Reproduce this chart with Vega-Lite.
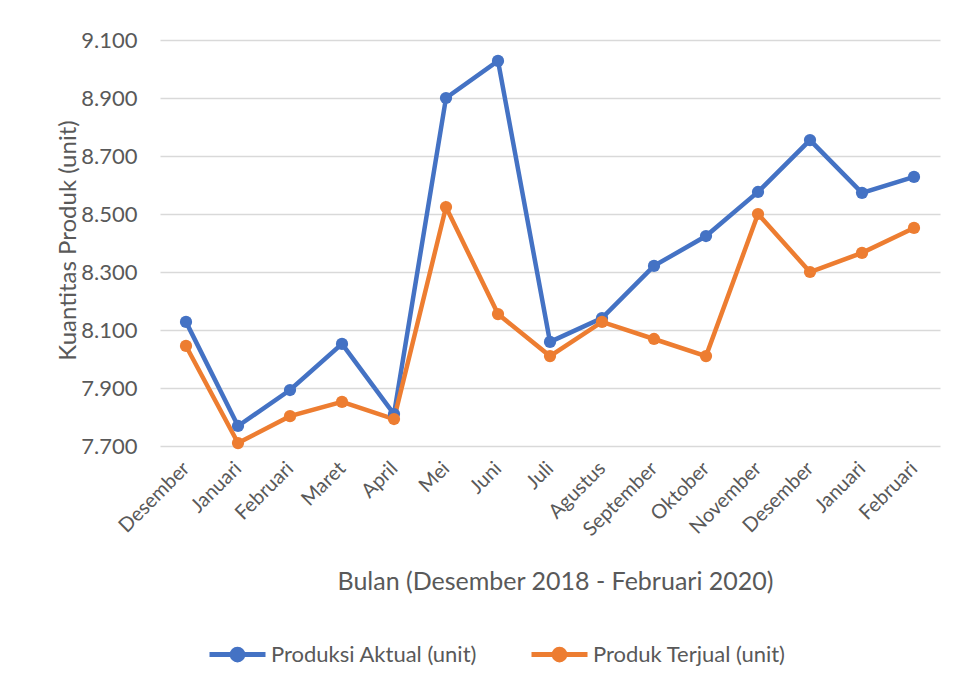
{
  "$schema": "https://vega.github.io/schema/vega-lite/v6.json",
  "width": 780,
  "height": 406,
  "autosize": {"type": "none"},
  "padding": {"left": 160, "top": 40, "right": 17, "bottom": 241},
  "background": "white",
  "data": {
    "values": [
      {"periode": "Desember 2018", "seri": "Produksi Aktual (unit)", "nilai": 8128},
      {"periode": "Januari 2019", "seri": "Produksi Aktual (unit)", "nilai": 7769},
      {"periode": "Februari 2019", "seri": "Produksi Aktual (unit)", "nilai": 7893},
      {"periode": "Maret 2019", "seri": "Produksi Aktual (unit)", "nilai": 8052},
      {"periode": "April 2019", "seri": "Produksi Aktual (unit)", "nilai": 7810},
      {"periode": "Mei 2019", "seri": "Produksi Aktual (unit)", "nilai": 8900},
      {"periode": "Juni 2019", "seri": "Produksi Aktual (unit)", "nilai": 9028},
      {"periode": "Juli 2019", "seri": "Produksi Aktual (unit)", "nilai": 8059},
      {"periode": "Agustus 2019", "seri": "Produksi Aktual (unit)", "nilai": 8141},
      {"periode": "September 2019", "seri": "Produksi Aktual (unit)", "nilai": 8321},
      {"periode": "Oktober 2019", "seri": "Produksi Aktual (unit)", "nilai": 8424},
      {"periode": "November 2019", "seri": "Produksi Aktual (unit)", "nilai": 8576},
      {"periode": "Desember 2019", "seri": "Produksi Aktual (unit)", "nilai": 8755},
      {"periode": "Januari 2020", "seri": "Produksi Aktual (unit)", "nilai": 8573},
      {"periode": "Februari 2020", "seri": "Produksi Aktual (unit)", "nilai": 8628},
      {"periode": "Desember 2018", "seri": "Produk Terjual (unit)", "nilai": 8045},
      {"periode": "Januari 2019", "seri": "Produk Terjual (unit)", "nilai": 7710},
      {"periode": "Februari 2019", "seri": "Produk Terjual (unit)", "nilai": 7803},
      {"periode": "Maret 2019", "seri": "Produk Terjual (unit)", "nilai": 7852},
      {"periode": "April 2019", "seri": "Produk Terjual (unit)", "nilai": 7793},
      {"periode": "Mei 2019", "seri": "Produk Terjual (unit)", "nilai": 8524},
      {"periode": "Juni 2019", "seri": "Produk Terjual (unit)", "nilai": 8155},
      {"periode": "Juli 2019", "seri": "Produk Terjual (unit)", "nilai": 8010},
      {"periode": "Agustus 2019", "seri": "Produk Terjual (unit)", "nilai": 8128},
      {"periode": "September 2019", "seri": "Produk Terjual (unit)", "nilai": 8069},
      {"periode": "Oktober 2019", "seri": "Produk Terjual (unit)", "nilai": 8010},
      {"periode": "November 2019", "seri": "Produk Terjual (unit)", "nilai": 8500},
      {"periode": "Desember 2019", "seri": "Produk Terjual (unit)", "nilai": 8300},
      {"periode": "Januari 2020", "seri": "Produk Terjual (unit)", "nilai": 8366},
      {"periode": "Februari 2020", "seri": "Produk Terjual (unit)", "nilai": 8452}
    ]
  },
  "mark": {"type": "line", "strokeWidth": 4.5, "point": {"filled": true, "size": 150}},
  "encoding": {
    "x": {
      "field": "periode",
      "type": "ordinal",
      "sort": null,
      "scale": {"type": "point", "padding": 0.5},
      "axis": {
        "title": "Bulan (Desember 2018 - Februari 2020)",
        "labelExpr": "split(datum.label, ' ')[0]",
        "labelAngle": -45,
        "labelAlign": "right",
        "labelBaseline": "middle",
        "labelPadding": 19,
        "ticks": false,
        "domain": false,
        "grid": false,
        "titleX": 395,
        "titleY": 135,
        "titleBaseline": "middle",
        "titleAnchor": "middle"
      }
    },
    "y": {
      "field": "nilai",
      "type": "quantitative",
      "scale": {"domain": [7700, 9100], "nice": false, "zero": false},
      "axis": {
        "title": "Kuantitas Produk (unit)",
        "values": [7700, 7900, 8100, 8300, 8500, 8700, 8900, 9100],
        "format": ",.0f",
        "ticks": false,
        "domain": false,
        "labelPadding": 23,
        "titleX": -92,
        "titleY": 200,
        "titleAngle": -90,
        "titleBaseline": "middle",
        "titleAlign": "center"
      }
    },
    "color": {
      "field": "seri",
      "type": "nominal",
      "scale": {"domain": ["Produksi Aktual (unit)", "Produk Terjual (unit)"], "range": ["#4472C4", "#ED7D31"]},
      "legend": {
        "title": null,
        "orient": "none",
        "direction": "horizontal",
        "legendX": 47,
        "legendY": 584,
        "symbolType": "M-1,0L1,0M-0.19,0A0.19,0.19,0,1,1,0.19,0A0.19,0.19,0,1,1,-0.19,0",
        "symbolSize": 3136,
        "symbolStrokeWidth": 5,
        "columnPadding": 43,
        "labelOffset": 3,
        "labelLimit": 400
      }
    }
  },
  "config": {
    "locale": {"number": {"decimal": ",", "thousands": ".", "grouping": [3], "currency": ["", ""]}},
    "font": "Lato",
    "view": {"stroke": null},
    "axis": {
      "labelFont": "Lato",
      "titleFont": "Lato",
      "labelFontSize": 22,
      "titleFontSize": 24,
      "labelColor": "#595959",
      "titleColor": "#595959",
      "titleFontWeight": "normal",
      "gridColor": "#D9D9D9",
      "gridWidth": 1.5
    },
    "axisX": {"labelFontSize": 20, "titleFontSize": 25},
    "legend": {"labelFont": "Lato", "labelFontSize": 22, "labelColor": "#595959"}
  }
}
